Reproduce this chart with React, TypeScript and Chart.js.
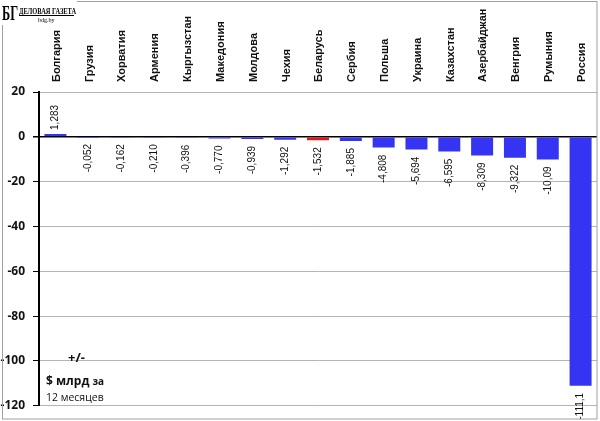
import React, { useEffect, useRef } from "react";
import { Chart, registerables } from "chart.js";

Chart.register(...registerables);

const categories = [
  "Болгария", "Грузия", "Хорватия", "Армения", "Кыргызстан", "Македония",
  "Молдова", "Чехия", "Беларусь", "Сербия", "Польша", "Украина",
  "Казахстан", "Азербайджан", "Венгрия", "Румыния", "Россия",
];
const values = [
  1.283, -0.052, -0.162, -0.21, -0.396, -0.77, -0.939, -1.292, -1.532,
  -1.885, -4.808, -5.694, -6.595, -8.309, -9.322, -10.09, -111.1,
];
const valueLabels = [
  "1,283", "-0,052", "-0,162", "-0,210", "-0,396", "-0,770", "-0,939", "-1,292",
  "-1,532", "-1,885", "-4,808", "-5,694", "-6,595", "-8,309", "-9,322", "-10,09", "-111,1",
];
const highlight = "Беларусь";
const yMin = -120;
const yMax = 20;
const yStep = 20;

const BLUE = "#3434f2";
const RED = "#e3161c";

const decorPlugin = {
  id: "decor",
  afterDatasetsDraw(chart: any) {
    const ctx = chart.ctx;
    const meta = chart.getDatasetMeta(0);
    ctx.save();
    ctx.fillStyle = "#111";
    ctx.font = "10px 'Liberation Sans', Arial, sans-serif";
    meta.data.forEach((bar: any, i: number) => {
      const v = values[i];
      const props = bar.getProps(["x", "y", "base"], true);
      ctx.save();
      ctx.translate(props.x, v >= 0 ? props.y - 4 : props.y + 7);
      ctx.rotate(-Math.PI / 2);
      ctx.textBaseline = "middle";
      ctx.textAlign = v >= 0 ? "left" : "right";
      ctx.fillText(valueLabels[i], 0, 0);
      ctx.restore();
    });
    ctx.restore();
  },
  afterDraw(chart: any) {
    const ctx = chart.ctx;
    ctx.save();
    // frame
    ctx.strokeStyle = "#a0a0a0";
    ctx.lineWidth = 1;
    ctx.strokeRect(2.5, 1.5, 594.5, 417.5);
    // logo
    ctx.fillStyle = "#fff";
    ctx.fillRect(0, 0, 77, 25);
    ctx.fillStyle = "#000";
    ctx.textBaseline = "alphabetic";
    ctx.textAlign = "left";
    ctx.save();
    ctx.translate(2, 20);
    ctx.scale(0.62, 1);
    ctx.font = "bold 20px 'Liberation Serif', serif";
    ctx.fillText("БГ", 0, 0);
    ctx.restore();
    ctx.save();
    ctx.translate(19, 14);
    ctx.scale(0.8, 1);
    ctx.font = "bold 8px 'Liberation Serif', serif";
    ctx.fillText("ДЕЛОВАЯ ГАЗЕТА", 0, 0);
    ctx.restore();
    ctx.fillRect(19, 15, 55, 1);
    ctx.font = "6px 'Liberation Serif', serif";
    ctx.fillText("bdg.by", 38, 21.5);
    // unit text
    ctx.fillStyle = "#111";
    ctx.font = "bold 13px 'Open Sans', 'Liberation Sans', sans-serif";
    ctx.fillText("+/-", 68, 362);
    ctx.font = "bold 12px 'Open Sans', 'Liberation Sans', sans-serif";
    ctx.fillText("$ млрд", 46, 385);
    const w = ctx.measureText("$ млрд ").width;
    ctx.font = "bold 10px 'Open Sans', 'Liberation Sans', sans-serif";
    ctx.fillText("за", 46 + w, 385);
    ctx.font = "10.5px 'Open Sans', 'Liberation Sans', sans-serif";
    ctx.fillText("12 месяцев", 46, 401);
    ctx.restore();
  },
};

export default function App() {
  const ref = useRef<HTMLCanvasElement | null>(null);
  useEffect(() => {
    if (!ref.current) return;
    const chart = new Chart(ref.current, {
      type: "bar",
      data: {
        labels: categories,
        datasets: [
          {
            data: values,
            backgroundColor: categories.map((c) => (c === highlight ? RED : BLUE)),
            barPercentage: 0.67,
            categoryPercentage: 1,
          },
        ],
      },
      options: {
        responsive: false,
        animation: false,
        devicePixelRatio: 1,
        layout: { padding: { left: 0, right: 3, top: 0, bottom: 13 } },
        plugins: { legend: { display: false }, tooltip: { enabled: false } },
        scales: {
          x: {
            position: "top",
            grid: { display: false, drawTicks: false },
            border: { display: false },
            ticks: {
              autoSkip: false,
              minRotation: 90,
              maxRotation: 90,
              padding: 10,
              labelOffset: 14.5,
              color: "#111",
              font: { family: "'Liberation Sans', Arial, sans-serif", size: 11, weight: "bold" },
            },
            afterFit: (scale: any) => {
              scale.height = 92;
            },
          },
          y: {
            min: yMin,
            max: yMax,
            ticks: {
              stepSize: yStep,
              padding: 8,
              color: "#111",
              font: { family: "'Open Sans', 'Liberation Sans', sans-serif", size: 12, weight: "bold" },
            },
            grid: {
              color: (c: any) => (c.tick && c.tick.value === 0 ? "#000" : "#b4b4b4"),
              lineWidth: (c: any) => (c.tick && c.tick.value === 0 ? 1.5 : 1),
              tickColor: "#000",
              tickLength: 6,
            },
            border: { display: true, color: "#000", width: 2 },
            afterFit: (scale: any) => {
              scale.width = 39;
            },
          },
        },
      },
      plugins: [decorPlugin],
    });
    return () => chart.destroy();
  }, []);
  return (
    <div style={{ position: "fixed", left: 0, top: 0, width: 600, height: 421, background: "#fff" }}>
      <canvas ref={ref} width={600} height={421} style={{ display: "block" }} />
    </div>
  );
}
